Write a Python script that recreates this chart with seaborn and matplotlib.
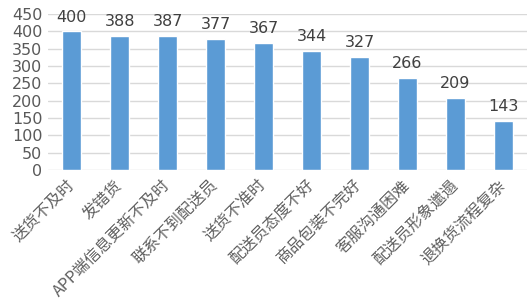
import matplotlib
matplotlib.use("Agg")
import matplotlib.pyplot as plt
import seaborn as sns
import pandas as pd

categories = ["送货不及时", "发错货", "APP端信息更新不及时", "联系不到配送员", "送货不准时",
              "配送员态度不好", "商品包装不完好", "客服沟通困难", "配送员形象邋遢", "退换货流程复杂"]
values = [400, 388, 387, 377, 367, 344, 327, 266, 209, 143]
yticks = [0, 50, 100, 150, 200, 250, 300, 350, 400, 450]

sns.set_style("white")
plt.rcParams['font.family'] = ['Noto Sans CJK SC', 'DejaVu Sans']

df = pd.DataFrame({"cat": categories, "val": values})
fig = plt.figure(figsize=(5.32, 3.07), dpi=100)
ax = fig.add_axes([0.090, 0.446, 0.901, 0.508])
sns.barplot(data=df, x="cat", y="val", color="#5B9BD5", saturation=1, width=0.4, ax=ax, zorder=3)
ax.set_ylim(0, 450)
ax.set_yticks(yticks)
ax.set_yticklabels([str(t) for t in yticks], family=['DejaVu Sans'])
ax.set_xlim(-0.5, len(categories) - 0.5)
ax.grid(axis="y", color="#D9D9D9", linewidth=1, zorder=0)
ax.set_axisbelow(True)
for s in ax.spines.values():
    s.set_visible(False)
ax.set_xlabel("")
ax.set_ylabel("")
ax.tick_params(axis="y", length=0, labelsize=11.5, labelcolor="#595959", pad=4)
ax.tick_params(axis="x", length=0, labelsize=11.5, labelcolor="#606060", pad=9)
for lbl in ax.get_xticklabels():
    lbl.set_rotation(45)
    lbl.set_ha("right")
    lbl.set_va("center")
    lbl.set_rotation_mode("anchor")
    lbl.set_fontweight("light")
for c in ax.containers:
    ax.bar_label(c, labels=[str(v) for v in values], padding=5, fontsize=11.5,
                 color="#404040", family=['DejaVu Sans'])
fig.savefig("out.png", dpi=100)
